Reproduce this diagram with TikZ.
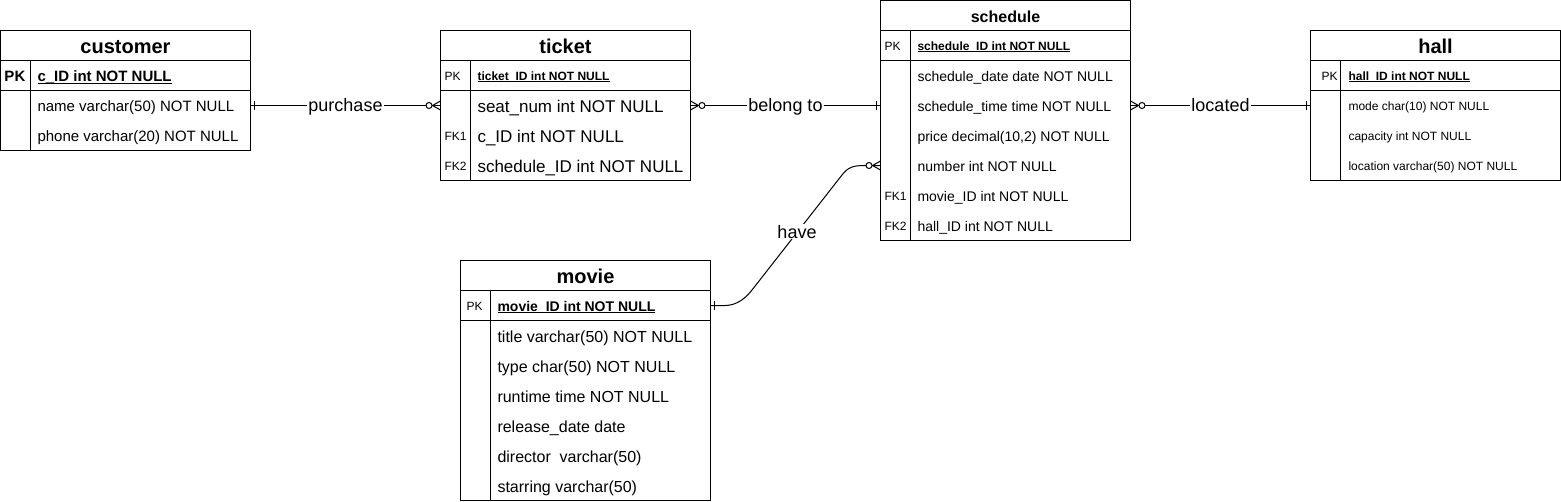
\documentclass[tikz,border=0pt]{standalone}
\usepackage{fontspec}
\setmainfont{Liberation Sans}
\usetikzlibrary{calc}
\newcommand{\fsz}[1]{\fontsize{#1}{#1}\selectfont}
\newcommand{\pkul}[1]{\setbox0\hbox{#1}\rlap{\rule[-0.12em]{\wd0}{1pt}}\box0}

\begin{document}
\begin{tikzpicture}[x=1pt, y=-1pt, line width=1pt,
    tbl/.style={draw, inner sep=0pt, outer sep=0pt},
    fld/.style={anchor=west, inner sep=0pt, font=\fsz{#1},
      /utils/exec={\pgfmathsetlengthmacro\rowh{0.716*#1pt+2pt}}, text height=\rowh, text depth=0pt},
    fldb/.style={fld=#1, font=\fsz{#1}\bfseries},
    ttl/.style={inner sep=0pt, font=\fsz{#1}\bfseries,
      /utils/exec={\pgfmathsetlengthmacro\rowh{0.716*#1pt+2pt}}, text height=\rowh, text depth=0pt},
    lbl/.style={fill=white, inner sep=1pt, font=\fsz{18}, anchor=base, yshift=-5.5pt},
    onebar/.pic={\draw (4,-4.5) -- (4,4.5);},
    zeromany/.pic={\draw (0,-4.5) -- (8,0) -- (0,4.5); \draw[fill=white] (11.5,0) circle (3);}]
  \tikzstyle{every node}=[outer sep=0pt]
  \useasboundingbox (0,0) rectangle (1561,501);

  \node[tbl, minimum width=250, minimum height=120] (customer) at (125.5,90.5) {};
  \draw (0.5,60.5) -- (250.5,60.5);
  \draw (0.5,90.5) -- (250.5,90.5);
  \draw (30.5,60.5) -- (30.5,150.5);
  \node[ttl=20] (c-title) at (125.5,45.5) {customer};
  \node[fldb=15] (c-key) at (4.5,75.5) {PK};
  \node[fldb=15] (c0) at (37.5,75.5) {\pkul{c\_ID int NOT NULL}};
  \node[fld=15] (c1) at (37.5,105.5) {name varchar(50) NOT NULL};
  \node[fld=15] (c2) at (37.5,135.5) {phone varchar(20) NOT NULL};

  \node[tbl, minimum width=250, minimum height=150] (ticket) at (565.5,105.5) {};
  \draw (440.5,60.5) -- (690.5,60.5);
  \draw (440.5,90.5) -- (690.5,90.5);
  \draw (470.5,60.5) -- (470.5,180.5);
  \node[ttl=20] (t-title) at (565.5,45.5) {ticket};
  \node[fld=12] (t-key) at (444.5,75.5) {PK};
  \node[fld=12] (t-fk1) at (444.5,135.5) {FK1};
  \node[fld=12] (t-fk2) at (444.5,165.5) {FK2};
  \node[fldb=12] (t0) at (477.5,75.5) {\pkul{ticket\_ID int NOT NULL}};
  \node[fld=17] (t1) at (477.5,105.5) {seat\_num int NOT NULL};
  \node[fld=17] (t2) at (477.5,135.5) {c\_ID int NOT NULL};
  \node[fld=17] (t3) at (477.5,165.5) {schedule\_ID int NOT NULL};

  \node[tbl, minimum width=250, minimum height=240] (schedule) at (1005.5,120.5) {};
  \draw (880.5,30.5) -- (1130.5,30.5);
  \draw (880.5,60.5) -- (1130.5,60.5);
  \draw (910.5,30.5) -- (910.5,240.5);
  \node[ttl=16] (s-title) at (1005.5,15.5) {schedule};
  \node[fld=12] (s-key) at (884.5,45.5) {PK};
  \node[fld=12] (s-fk1) at (884.5,195.5) {FK1};
  \node[fld=12] (s-fk2) at (884.5,225.5) {FK2};
  \node[fldb=12] (s0) at (917.5,45.5) {\pkul{schedule\_ID int NOT NULL}};
  \node[fld=14] (s1) at (917.5,75.5) {schedule\_date date NOT NULL};
  \node[fld=14] (s2) at (917.5,105.5) {schedule\_time time NOT NULL};
  \node[fld=14] (s3) at (917.5,135.5) {price decimal(10,2) NOT NULL};
  \node[fld=14] (s4) at (917.5,165.5) {number int NOT NULL};
  \node[fld=14] (s5) at (917.5,195.5) {movie\_ID int NOT NULL};
  \node[fld=14] (s6) at (917.5,225.5) {hall\_ID int NOT NULL};

  \node[tbl, minimum width=250, minimum height=150] (hall) at (1435.5,105.5) {};
  \draw (1310.5,60.5) -- (1560.5,60.5);
  \draw (1310.5,90.5) -- (1560.5,90.5);
  \draw (1340.5,60.5) -- (1340.5,180.5);
  \node[ttl=20] (h-title) at (1435.5,45.5) {hall};
  \node[fld=12] (h-key) at (1321.5,75.5) {PK};
  \node[fldb=12] (h0) at (1348.5,75.5) {\pkul{hall\_ID int NOT NULL}};
  \node[fld=12] (h1) at (1348.5,105.5) {mode char(10) NOT NULL};
  \node[fld=12] (h2) at (1348.5,135.5) {capacity int NOT NULL};
  \node[fld=12] (h3) at (1348.5,165.5) {location varchar(50) NOT NULL};

  \node[tbl, minimum width=250, minimum height=240] (movie) at (585.5,380.5) {};
  \draw (460.5,290.5) -- (710.5,290.5);
  \draw (460.5,320.5) -- (710.5,320.5);
  \draw (490.5,290.5) -- (490.5,500.5);
  \node[ttl=20] (m-title) at (585.5,275.5) {movie};
  \node[fld=12] (m-key) at (466.5,305.5) {PK};
  \node[fldb=14] (m0) at (497.5,305.5) {\pkul{movie\_ID int NOT NULL}};
  \node[fld=16] (m1) at (497.5,335.5) {title varchar(50) NOT NULL};
  \node[fld=16] (m2) at (497.5,365.5) {type char(50) NOT NULL};
  \node[fld=16] (m3) at (497.5,395.5) {runtime time NOT NULL};
  \node[fld=16] (m4) at (497.5,425.5) {release\_date date};
  \node[fld=16] (m5) at (497.5,455.5) {director~ varchar(50)};
  \node[fld=16] (m6) at (497.5,485.5) {starring varchar(50)};

  \draw (customer.east |- c1) -- node[lbl, midway] {purchase} (ticket.west |- t1);
  \draw (ticket.east |- t1) -- node[lbl, midway] {belong to} (schedule.west |- s2);
  \draw (schedule.east |- s2) -- node[lbl, midway] {located} (hall.west |- h1);
  \draw (movie.east |- m0) -- (725,305.5) .. controls (737,305.5) and (745.8,297.9) .. (752,290)
    -- node[lbl, midway] {have} (842,175) .. controls (848.2,167.1) and (853,165.5) .. (865,165.5)
    -- (schedule.west |- s4);

  \pic at (customer.east |- c1) {onebar};
  \pic[rotate=180] at (ticket.west |- t1) {zeromany};
  \pic at (ticket.east |- t1) {zeromany};
  \pic[rotate=180] at (schedule.west |- s2) {onebar};
  \pic at (schedule.east |- s2) {zeromany};
  \pic[rotate=180] at (hall.west |- h1) {onebar};
  \pic at (movie.east |- m0) {onebar};
  \pic[rotate=180] at (schedule.west |- s4) {zeromany};
\end{tikzpicture}
\end{document}
